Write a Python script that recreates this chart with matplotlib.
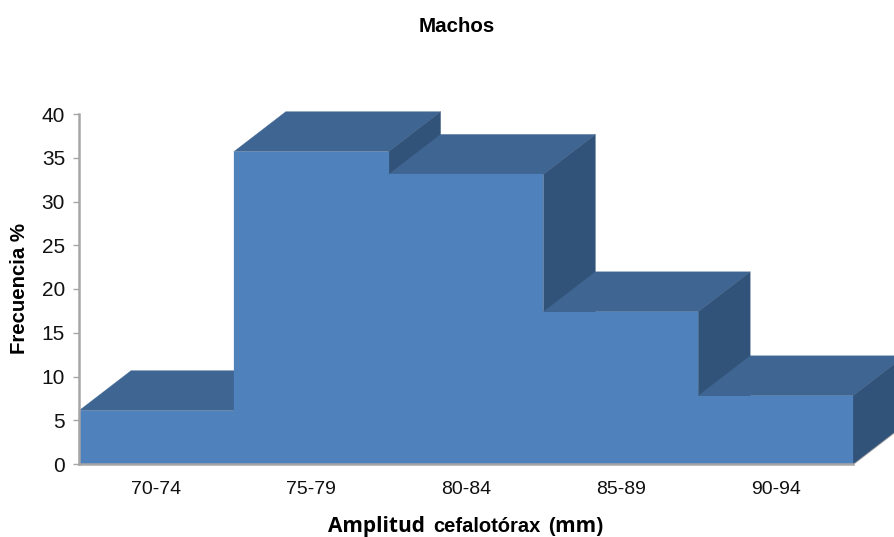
import matplotlib
matplotlib.use('Agg')
import matplotlib.pyplot as plt
from matplotlib.patches import Polygon

plt.rcParams['font.family'] = 'Liberation Sans'

categories = ['70-74', '75-79', '80-84', '85-89', '90-94']
values = [6.1, 35.7, 33.1, 17.4, 7.8]
y_ticks = [0, 5, 10, 15, 20, 25, 30, 35, 40]

W, H = 894, 537
FRONT = '#4F81BD'
TOP = '#3F6592'
SIDE = '#325379'
AXIS = '#A6A6A6'
DX = 0.336  # depth of the fake 3d, in categories
DY = 4.57   # and in y units

fig = plt.figure(figsize=(W / 100, H / 100), dpi=100)
ax = fig.add_axes([79 / W, 1 - 464 / H, 774 / W, 350 / H])
ax.set_xlim(0, len(values))
ax.set_ylim(0, 40)


def face(pts, color):
    p = Polygon(pts, closed=True, facecolor=color, edgecolor=color, linewidth=0.2, clip_on=False, zorder=3)
    ax.add_patch(p)


# left to right, each front hides the back of the one before
for i, v in enumerate(values):
    face([(i, v), (i + 1, v), (i + 1 + DX, v + DY), (i + DX, v + DY)], TOP)
    face([(i + 1, 0), (i + 1 + DX, DY), (i + 1 + DX, v + DY), (i + 1, v)], SIDE)
    face([(i, 0), (i + 1, 0), (i + 1, v), (i, v)], FRONT)

# grey floor edge under the right face
n = len(values)
ax.plot([n, n + DX], [0, DY], color=AXIS, lw=1.5, clip_on=False, zorder=2.5)

for s in ['top', 'right']:
    ax.spines[s].set_visible(False)
ax.spines['left'].set_color(AXIS)
ax.spines['left'].set_linewidth(1.8)
ax.spines['bottom'].set_color(AXIS)
ax.spines['bottom'].set_linewidth(1.8)
ax.spines['left'].set_zorder(5)
ax.spines['bottom'].set_zorder(5)

ax.set_yticks(y_ticks)
ax.set_xticks([i + 0.5 for i in range(n)])
ax.set_xticklabels(categories)
ax.tick_params(axis='y', length=4, width=1, color=AXIS, labelsize=15, pad=6, labelcolor='#111111')
ax.tick_params(axis='x', length=0, labelsize=14, pad=12, labelcolor='#111111')
for lab in ax.get_xticklabels():
    lab.set_x(lab.get_position()[0])

fig.text(457 / W, 1 - 27 / H, 'Machos', ha='center', va='center', fontsize=14.8, fontweight='bold')
fig.text(20 / W, 1 - 289 / H, 'Frecuencia %', rotation=90, ha='center', va='center', fontsize=14.7, fontweight='bold')

# x label is set in two mixed fonts in the original
fig.text(328 / W, 1 - 532 / H, 'Amplitud', ha='left', va='baseline', fontsize=15, fontweight='bold', family='Open Sans')
fig.text(433 / W, 1 - 532 / H, 'cefalotórax', ha='left', va='baseline', fontsize=14.5, fontweight='bold')
fig.text(548 / W, 1 - 532 / H, '(mm)', ha='left', va='baseline', fontsize=15, fontweight='bold', family='Open Sans')

fig.savefig('out.png', dpi=100)
